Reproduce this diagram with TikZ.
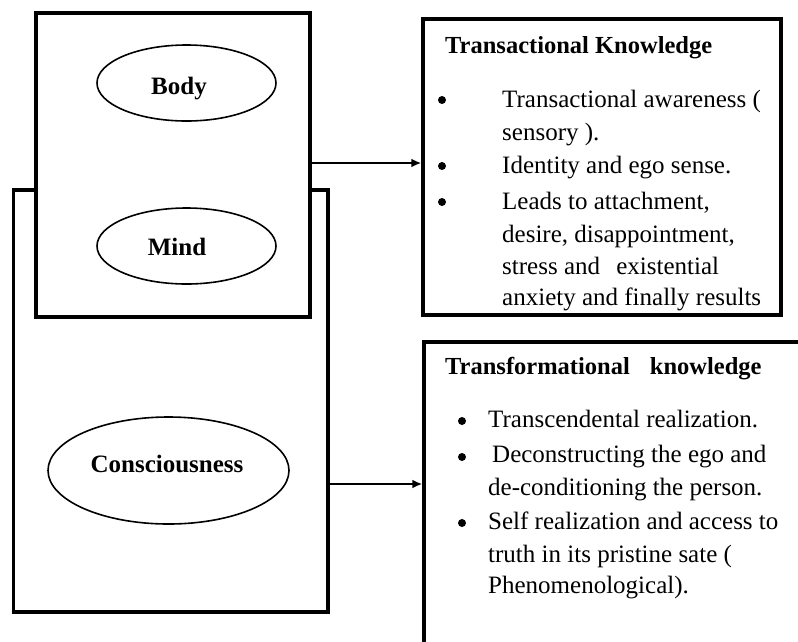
\documentclass[tikz,border=0pt]{standalone}
\usepackage{fontspec}
\setmainfont{Liberation Serif}
\usetikzlibrary{shapes.geometric, arrows.meta, positioning}

\newcommand{\txtsize}{\fontsize{25}{29}\selectfont}

\begin{document}
\begin{tikzpicture}[x=1pt, y=-1pt]

\useasboundingbox (0,0) rectangle (798,641);
\clip (0,0) rectangle (798,641);

% frames on the left
\node[draw, line width=3.5pt, inner sep=0, minimum width=314.5pt, minimum height=422pt] (outer) at (170.75,401) {};
\node[draw, fill=white, line width=3.5pt, inner sep=0, minimum width=274pt, minimum height=304pt] (inner) at (173,165) {};

\node[draw, ellipse, line width=1.6pt, inner sep=0, minimum width=179pt, minimum height=76pt] (body) at (186.5,83) {};
\node[draw, ellipse, line width=1.6pt, inner sep=0, minimum width=179pt, minimum height=76pt] (mind) at (186.5,246) {};
\node[draw, ellipse, line width=1.6pt, inner sep=0, minimum width=241pt, minimum height=107pt] (cons) at (168.5,470.5) {};
\node[anchor=base, inner sep=0, font=\txtsize\bfseries] (bodylbl) at (179,94) {Body};
\node[anchor=base, inner sep=0, font=\txtsize\bfseries] (mindlbl) at (177,255) {Mind};
\node[anchor=base, inner sep=0, font=\txtsize\bfseries] (conslbl) at (167,472) {Consciousness};

% boxes on the right
\node[draw, line width=3.5pt, inner sep=0, minimum width=358pt, minimum height=296pt] (tk) at (602,167) {};
\node[draw, line width=3.5pt, inner sep=0, minimum width=396pt, minimum height=338pt] (tf) at (622,511) {};

\draw[-{Latex[length=10pt,width=9pt]}, line width=2pt] ([yshift=2pt]inner.east) -- ([yshift=2pt]inner.east -| tk.west);
\draw[-{Latex[length=10pt,width=9pt]}, line width=2pt] ([yshift=-83pt]outer.east) -- ([yshift=-83pt]outer.east -| tf.west);

% transactional knowledge
\node[anchor=base west, inner sep=0, font=\fontsize{24.5}{29}\selectfont\bfseries] (tktitle) at (445,53) {Transactional Knowledge};
\foreach \y [count=\i] in {100,166,202}
  \node[circle, fill, inner sep=0, minimum size=8pt] (tkb\i) at (442,\y) {};
\foreach \y/\t [count=\i] in {107/{Transactional awareness (}, 140/{sensory ).}, 173/{Identity and ego sense.}, 209/{Leads to attachment,}, 242/{desire, disappointment,}, 274/{stress and\hspace{10pt} existential}, 305/{anxiety and finally results}}
  \node[anchor=base west, inner sep=0, font=\txtsize] (tkl\i) at (502,\y) {\t};

% transformational knowledge
\node[anchor=base west, inner sep=0, font=\fontsize{24.5}{29}\selectfont\bfseries] (tftitle) at (445,374) {Transformational\hspace{14pt} knowledge};
\foreach \y [count=\i] in {421,457,523}
  \node[circle, fill, inner sep=0, minimum size=8pt] (tfb\i) at (462,\y) {};
\foreach \x/\y/\t [count=\i] in {488/427/{Transcendental realization.}, 492/462/{Deconstructing the ego and}, 488/495/{de-conditioning the person.}, 488/529/{Self realization and access to}, 488/562/{truth in its pristine sate (}, 488/593/{Phenomenological).}}
  \node[anchor=base west, inner sep=0, font=\txtsize] (tfl\i) at (\x,\y) {\t};

\end{tikzpicture}
\end{document}
